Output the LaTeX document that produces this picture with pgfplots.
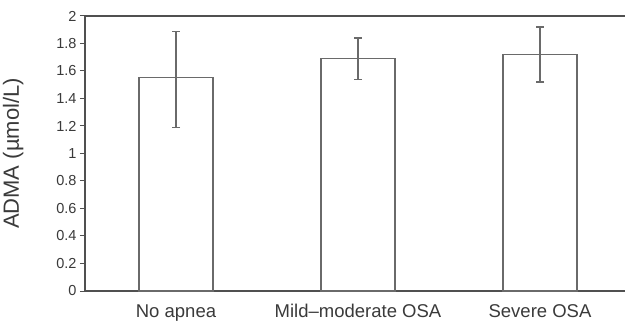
\documentclass[border=0pt]{standalone}
\usepackage{fontspec}
\setmainfont{Liberation Sans}
\usepackage{pgfplots}
\pgfplotsset{compat=1.18}
\definecolor{axgray}{HTML}{505050}
\definecolor{bargray}{HTML}{6A6A6A}
\definecolor{txtgray}{HTML}{3A3A3A}
\begin{document}
\begin{tikzpicture}
\path[use as bounding box] (0,0) rectangle (625bp,321bp);
\begin{axis}[
  at={(85bp,30bp)}, anchor=south west,
  width=540bp, height=275bp, scale only axis,
  xmin=-0.5, xmax=2.467, ymin=0, ymax=2,
  axis x line*=bottom, axis y line*=left,
  axis line style={-, draw=axgray, line width=2.4bp},
  xtick={0,1,2},
  xticklabels={No apnea, Mild--moderate OSA, Severe OSA},
  x tick style={draw=none},
  ytick={0,0.2,...,2.01},
  y tick style={draw=axgray, line width=1bp},
  tick align=outside, major tick length=5bp,
  /pgf/number format/assume math mode=true,
  yticklabel style={font=\fontsize{14.5bp}{16bp}\selectfont, text=txtgray},
  xticklabel style={font=\fontsize{18.5bp}{20bp}\selectfont, text=txtgray, yshift=-5bp},
  ylabel={ADMA (µmol/L)},
  ylabel style={font=\fontsize{22bp}{24bp}\selectfont, text=txtgray, yshift=26bp},
  ybar, bar width=74bp,
  clip=false,
]
\addplot[draw=bargray, fill=white, line width=1.2bp,
  error bars/.cd, y dir=both, y explicit,
  error bar style={draw=bargray, line width=1.2bp},
  error mark options={rotate=90, draw=bargray, line width=1.2bp, mark size=4bp}]
  coordinates {
  (0,1.55) += (0,0.34) -= (0,0.36)
  (1,1.69) += (0,0.15) -= (0,0.15)
  (2,1.72) += (0,0.20) -= (0,0.20)
  };
\draw[draw=axgray, line width=2.4bp] (rel axis cs:0,1) -- (rel axis cs:1,1);
\end{axis}
\end{tikzpicture}
\end{document}
